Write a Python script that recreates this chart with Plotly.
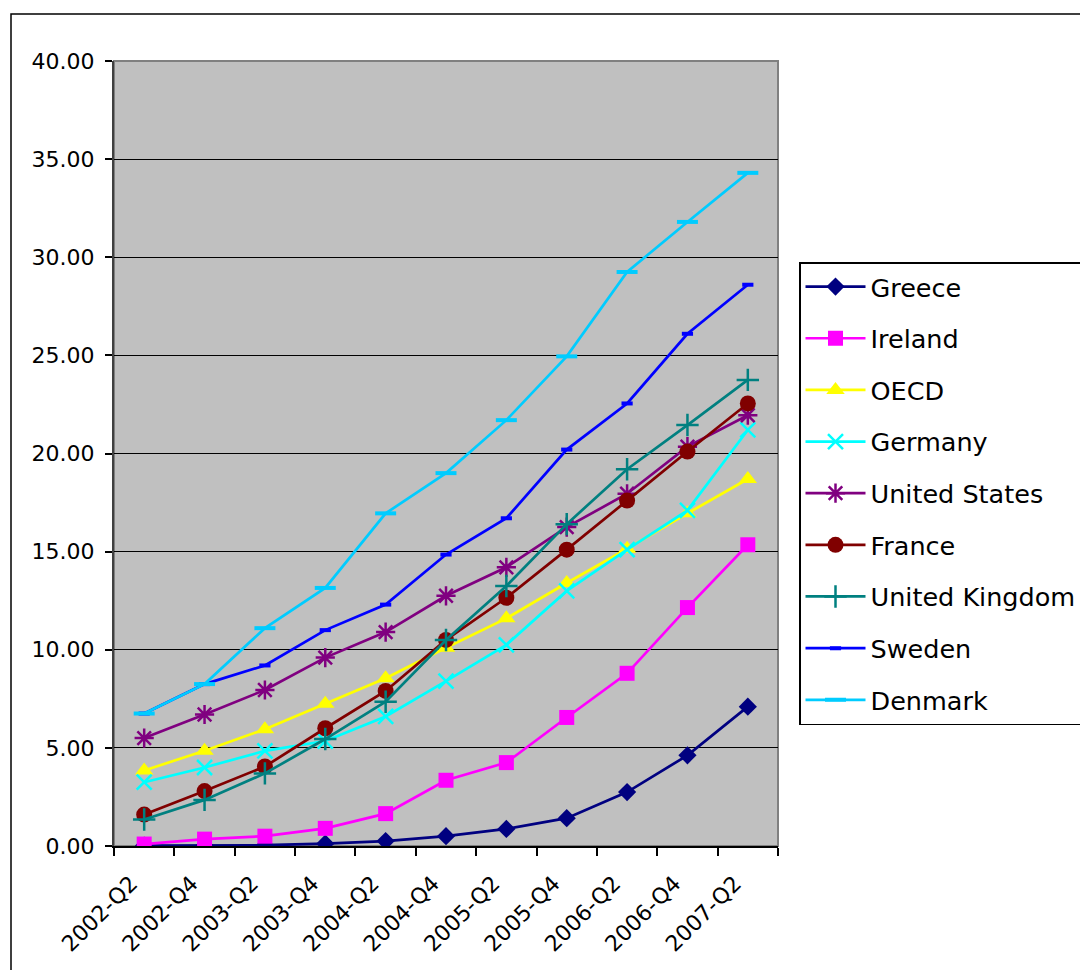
import plotly.graph_objects as go

quarters = ["2002-Q2", "2002-Q4", "2003-Q2", "2003-Q4", "2004-Q2", "2004-Q4",
            "2005-Q2", "2005-Q4", "2006-Q2", "2006-Q4", "2007-Q2"]
greece = [0.02, 0.03, 0.04, 0.12, 0.25, 0.5, 0.87, 1.42, 2.75, 4.62, 7.1]
ireland = [0.1, 0.35, 0.5, 0.9, 1.65, 3.35, 4.25, 6.55, 8.8, 12.15, 15.35]
oecd = [3.85, 4.85, 5.95, 7.25, 8.55, 10.1, 11.6, 13.4, 15.15, 16.95, 18.7]
germany = [3.25, 4.0, 4.85, 5.35, 6.6, 8.4, 10.25, 13.0, 15.1, 17.1, 21.2]
united_states = [5.5, 6.7, 7.95, 9.6, 10.9, 12.75, 14.2, 16.25, 17.95, 20.35, 21.95]
france = [1.6, 2.8, 4.05, 6.0, 7.9, 10.5, 12.65, 15.1, 17.6, 20.1, 22.55]
united_kingdom = [1.35, 2.35, 3.7, 5.45, 7.35, 10.5, 13.25, 16.4, 19.2, 21.45, 23.75]
sweden = [6.75, 8.25, 9.2, 11.0, 12.3, 14.85, 16.7, 20.2, 22.55, 26.1, 28.6]
denmark = [6.75, 8.25, 11.1, 13.15, 16.95, 19.0, 21.7, 24.95, 29.25, 31.8, 34.3]

series = [
    ("Greece", greece, "#000080", dict(symbol="diamond", size=14)),
    ("Ireland", ireland, "#FF00FF", dict(symbol="square", size=15)),
    ("OECD", oecd, "#FFFF00", dict(symbol="triangle-up", size=16)),
    ("Germany", germany, "#00FFFF", dict(symbol="x-thin-open", size=15, line=dict(width=2.5))),
    ("United States", united_states, "#800080", dict(symbol="asterisk-open", size=16, line=dict(width=2.5))),
    ("France", france, "#800000", dict(symbol="circle", size=16)),
    ("United Kingdom", united_kingdom, "#008080", dict(symbol="cross-thin-open", size=16, line=dict(width=2.5))),
    ("Sweden", sweden, "#0000FF", dict(symbol="line-ew-open", size=8, line=dict(width=4))),
    ("Denmark", denmark, "#00CCFF", dict(symbol="line-ew-open", size=15, line=dict(width=4))),
]

fig = go.Figure()
for name, vals, color, mk in series:
    m = dict(mk)
    m["color"] = color
    if "line" in m:
        m["line"] = dict(m["line"], color=color)
    fig.add_trace(go.Scatter(
        x=quarters, y=vals, name=name, mode="lines+markers",
        line=dict(color=color, width=2.7), marker=m, legendgroup=name,
    ))

W, H = 1080, 970
L, R, T, B = 114, 778, 61, 846


def px_x(p):
    return (p - L) / (R - L)


def px_y(p):
    return (B - p) / (B - T)


fig.update_layout(
    width=W, height=H,
    margin=dict(l=L, r=W - R, t=T, b=H - B, autoexpand=False),
    paper_bgcolor="white",
    plot_bgcolor="#C0C0C0",
    font=dict(family="DejaVu Sans, Verdana, sans-serif", size=21, color="black"),
    showlegend=True,
    legend=dict(
        x=px_x(799), y=px_y(262), xanchor="left", yanchor="top",
        bgcolor="white", bordercolor="black", borderwidth=1.5,
        font=dict(size=25.5), itemwidth=60, tracegroupgap=15.5,
        traceorder="grouped",
    ),
    xaxis=dict(
        type="category", range=[-0.5, 10.5], tickson="boundaries",
        ticks="outside", ticklen=8, tickcolor="black", tickwidth=1.5,
        showline=True, linecolor="black", linewidth=2,
        showgrid=False, tickangle=-45, ticklabelstandoff=14,
        ticklabelshift=-13,
        tickfont=dict(size=22),
    ),
    yaxis=dict(
        range=[0, 40], dtick=5, tickformat=".2f",
        ticks="outside", ticklen=7, tickcolor="black", tickwidth=1.5,
        showline=True, linecolor="#404040", linewidth=2,
        showgrid=True, gridcolor="black", gridwidth=1,
        zeroline=False, tickfont=dict(size=22), ticklabelstandoff=6,
    ),
    shapes=[
        dict(type="rect", xref="paper", yref="paper", x0=0, x1=1, y0=0, y1=1,
             line=dict(color="#808080", width=2), layer="below"),
        dict(type="rect", xref="paper", yref="paper",
             x0=px_x(11), x1=px_x(1100), y0=px_y(990), y1=px_y(14),
             line=dict(color="black", width=1.5)),
    ],
)

fig.write_html("out.html")
